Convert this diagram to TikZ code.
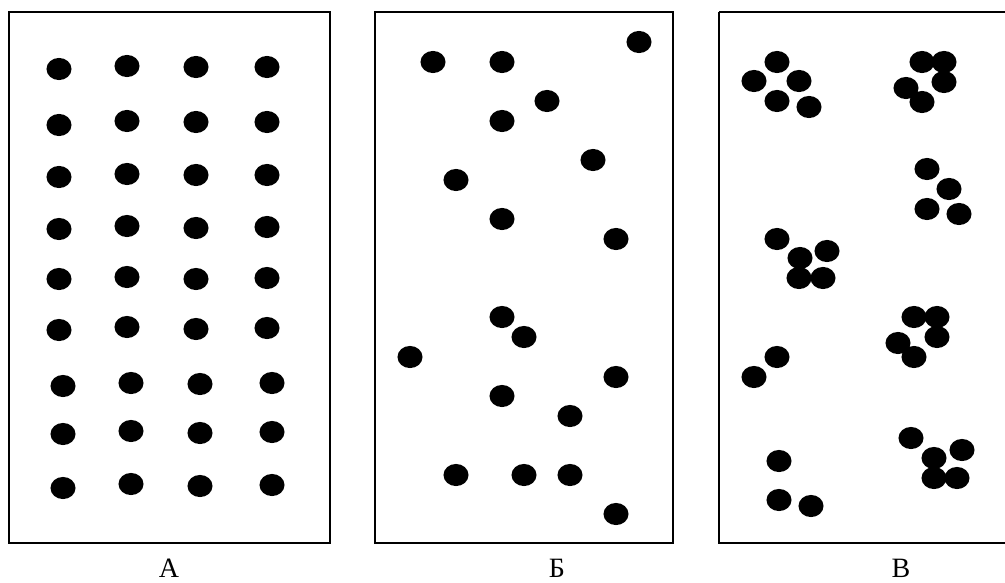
\documentclass[tikz,border=0pt]{standalone}
\usepackage{fontspec}
\setmainfont{Liberation Serif}
\tikzset{
  panel/.style={draw=black, line width=1.5pt},
  dot/.style={fill=black},
  lbl/.style={font=\fontsize{21pt}{23pt}\selectfont, inner sep=0pt, anchor=base}
}
\newcommand{\dotat}[2]{\fill[dot] (#1,#2) ellipse [x radius=9.4pt, y radius=8.3pt];}
\begin{document}
\begin{tikzpicture}[x=0.75pt, y=-0.75pt]
\useasboundingbox (0,0) rectangle (1005,582);
% panels
\draw[panel] (9,12) rectangle (330,543);
\draw[panel] (375,12) rectangle (673,543);
\draw[panel] (719,12) -- (1010,12) (719,12) -- (719,543) -- (1010,543);
% labels
\node[lbl] (la) at (169,577) {А};
\node[lbl] (lb) at (557,577) {Б};
\node[lbl] (lc) at (901,577) {В};
% panel A
\foreach \a/\b/\c/\d in {69/66/67/67, 125/121/122/122, 177/174/175/175,
  229/226/228/227, 279/277/279/278, 330/327/329/328}{
  \dotat{59}{\a}\dotat{127}{\b}\dotat{196}{\c}\dotat{267}{\d}
}
\foreach \a/\b/\c/\d in {386/383/384/383, 434/431/433/432, 488/484/486/485}{
  \dotat{63}{\a}\dotat{131}{\b}\dotat{200}{\c}\dotat{272}{\d}
}
% panel B
\foreach \x/\y in {433/62, 502/62, 639/42, 547/101, 502/121, 593/160, 456/180, 502/219, 616/239,
  502/317, 524/337, 410/357, 616/377, 502/396, 570/416, 456/475, 524/475, 570/475, 616/514}{
  \dotat{\x}{\y}
}
% panel C
\foreach \x/\y in {777/62, 754/81, 799/81, 777/101, 809/107,
  922/62, 944/62, 906/88, 944/82, 922/102,
  927/169, 949/189, 927/209, 959/214,
  777/239, 800/258, 827/251, 799/278, 823/278,
  914/317, 937/317, 898/343, 937/337, 914/357,
  777/357, 754/377,
  779/461, 779/500, 811/506,
  911/438, 934/458, 962/450, 934/478, 957/478}{
  \dotat{\x}{\y}
}
\end{tikzpicture}
\end{document}
